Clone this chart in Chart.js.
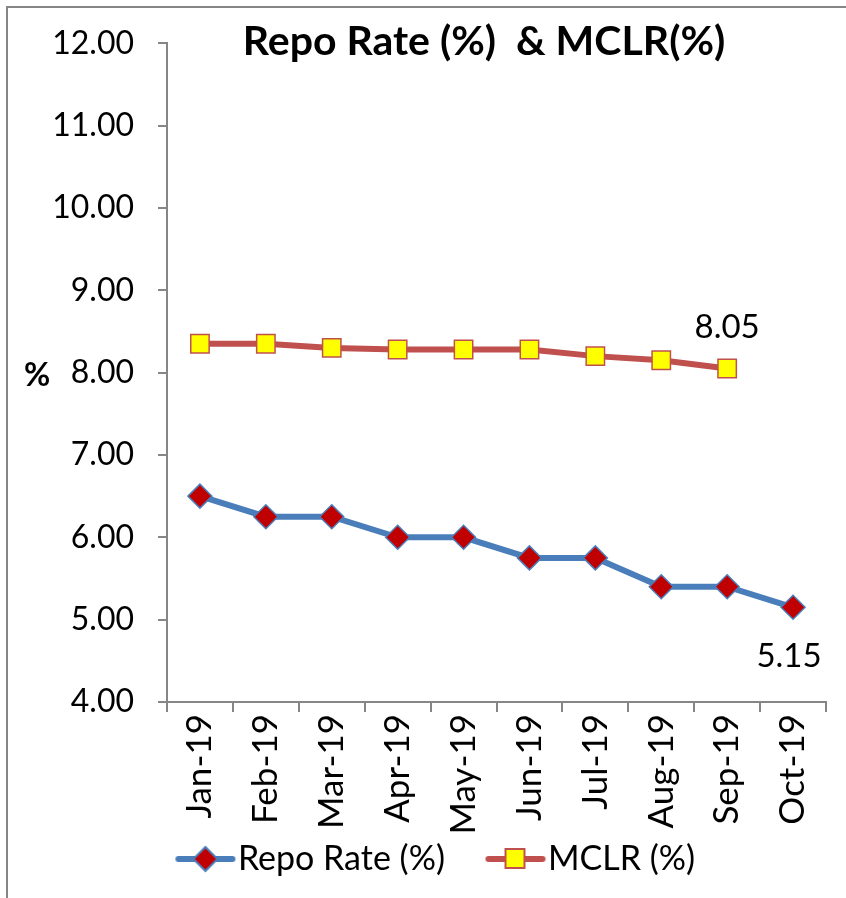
<!DOCTYPE html>
<html>
<head>
<meta charset="utf-8">
<script src="https://cdn.jsdelivr.net/npm/chart.js@4/dist/chart.umd.min.js"></script>
<style>
  html, body { margin: 0; padding: 0; background: #fff; }
  #wrap { position: relative; width: 846px; height: 898px; }
  canvas { display: block; }
</style>
</head>
<body>
<div id="wrap"><canvas id="c" width="846" height="898"></canvas></div>
<script>
// Monthly policy repo rate and MCLR, 2019
const months = ['Jan-19', 'Feb-19', 'Mar-19', 'Apr-19', 'May-19', 'Jun-19', 'Jul-19', 'Aug-19', 'Sep-19', 'Oct-19'];
const repoRate = [6.50, 6.25, 6.25, 6.00, 6.00, 5.75, 5.75, 5.40, 5.40, 5.15];
const mclr = [8.35, 8.35, 8.30, 8.28, 8.28, 8.28, 8.20, 8.15, 8.05, null];
const yTicks = [4, 5, 6, 7, 8, 9, 10, 11, 12];

const FONT = 'Lato, "Open Sans", sans-serif';
const BLUE = '#4A7EBB';
const RED = '#C0504D';
const AXIS = '#868686';

// Legend swatch: a short line with the series marker on it (left part kept blank as spacing)
const GAP = 45;
function swatch(lineColor, draw) {
  const c = document.createElement('canvas');
  c.width = GAP + 62; c.height = 30;
  const g = c.getContext('2d');
  g.translate(GAP, 0);
  g.strokeStyle = lineColor; g.lineWidth = 6; g.lineCap = 'round';
  g.beginPath(); g.moveTo(4, 15); g.lineTo(58, 15); g.stroke();
  draw(g);
  return c;
}
const repoSwatch = swatch(BLUE, g => {
  g.fillStyle = '#C00000'; g.strokeStyle = BLUE; g.lineWidth = 2;
  g.beginPath(); g.moveTo(31, 3); g.lineTo(43, 15); g.lineTo(31, 27); g.lineTo(19, 15); g.closePath();
  g.fill(); g.stroke();
});
const mclrSwatch = swatch(RED, g => {
  g.fillStyle = '#FFFF00'; g.strokeStyle = RED; g.lineWidth = 2;
  g.fillRect(21, 5, 19, 19); g.strokeRect(21, 5, 19, 19);
});

// Frame, title, vertical "%" label and the end-point value labels
const decor = {
  id: 'decor',
  afterLayout(chart) {
    // nudge the legend row a little to the right
    if (chart.legend) { chart.legend.left += 2; chart.legend.right += 2; }
  },
  beforeDraw(chart) {
    const ctx = chart.ctx;
    ctx.save();
    ctx.fillStyle = '#fff';
    ctx.fillRect(0, 0, chart.width, chart.height);
    ctx.strokeStyle = AXIS; ctx.lineWidth = 2;
    ctx.beginPath(); ctx.moveTo(7, chart.height); ctx.lineTo(7, 7); ctx.lineTo(chart.width, 7); ctx.stroke();
    ctx.restore();
  },
  afterDraw(chart) {
    const ctx = chart.ctx;
    ctx.save();
    ctx.fillStyle = '#000';
    ctx.textAlign = 'center'; ctx.textBaseline = 'middle';
    ctx.font = 'bold 41px ' + FONT;
    ctx.fillText('Repo Rate (%)  & MCLR(%)', 484, 42);
    ctx.font = 'bold 32px ' + FONT;
    ctx.fillText('%', 37, 376);
    ctx.font = '33px ' + FONT;
    const m = chart.getDatasetMeta(1).data[8];
    ctx.fillText(mclr[8].toFixed(2), m.x, m.y - 41);
    const r = chart.getDatasetMeta(0).data[9];
    ctx.fillText(repoRate[9].toFixed(2), r.x - 4, r.y + 49);
    ctx.restore();
  }
};

new Chart(document.getElementById('c'), {
  type: 'line',
  data: {
    labels: months,
    datasets: [
      {
        label: 'Repo Rate (%)',
        data: repoRate,
        borderColor: BLUE,
        borderWidth: 6,
        pointStyle: 'rectRot',
        pointRadius: 12,
        pointBackgroundColor: '#C00000',
        pointBorderColor: BLUE,
        pointBorderWidth: 1.5,
        tension: 0
      },
      {
        label: 'MCLR (%)',
        data: mclr,
        borderColor: RED,
        borderWidth: 6,
        pointStyle: 'rect',
        pointRadius: 13,
        pointBackgroundColor: '#FFFF00',
        pointBorderColor: RED,
        pointBorderWidth: 1.5,
        tension: 0
      }
    ]
  },
  options: {
    responsive: false,
    animation: false,
    layout: { padding: { left: 10, right: 20, top: 26, bottom: 12 } },
    plugins: {
      title: { display: false },
      tooltip: { enabled: false },
      legend: {
        position: 'bottom',
        labels: {
          usePointStyle: true,
          pointStyleWidth: GAP + 31,
          padding: 10,
          color: '#000',
          font: { family: FONT, size: 34 },
          generateLabels(chart) {
            return chart.data.datasets.map((ds, i) => ({
              text: ds.label,
              pointStyle: i === 0 ? repoSwatch : mclrSwatch,
              datasetIndex: i,
              hidden: false,
              lineWidth: 0,
              fontColor: '#000'
            }));
          }
        }
      }
    },
    scales: {
      x: {
        type: 'category',
        offset: true,
        afterFit(scale) { scale.height = 130; },
        grid: { offset: true, drawOnChartArea: false, drawTicks: true, tickLength: 10, color: AXIS, lineWidth: 2 },
        border: { display: true, color: AXIS, width: 2 },
        ticks: {
          color: '#000',
          font: { family: FONT, size: 35 },
          minRotation: 90, maxRotation: 90,
          autoSkip: false,
          padding: 2
        }
      },
      y: {
        min: 4, max: 12,
        afterBuildTicks(scale) { scale.ticks = yTicks.map(v => ({ value: v })); },
        afterFit(scale) { scale.width = 157; },
        grid: { drawOnChartArea: false, drawTicks: true, tickLength: 9, color: AXIS, lineWidth: 2 },
        border: { display: true, color: AXIS, width: 2 },
        ticks: {
          color: '#000',
          font: { family: FONT, size: 32 },
          padding: 24,
          callback: v => Number(v).toFixed(2)
        }
      }
    }
  },
  plugins: [decor]
});
</script>
</body>
</html>
